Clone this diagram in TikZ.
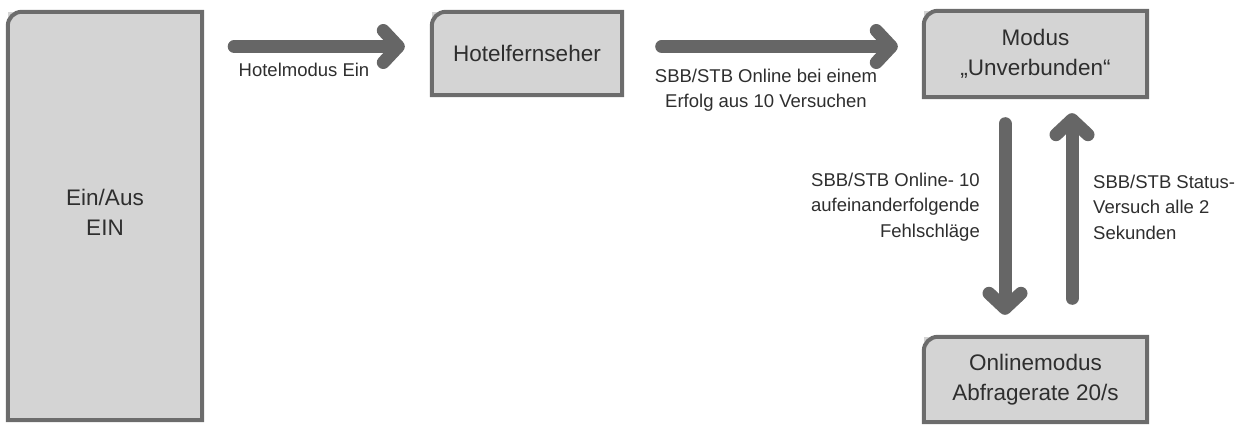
\documentclass[tikz,border=0pt]{standalone}
\usepackage{fontspec}
\setmainfont{Liberation Sans}
\usetikzlibrary{arrows.meta}
\definecolor{boxfill}{HTML}{D4D4D4}
\definecolor{boxline}{HTML}{6C6C6C}
\definecolor{arrowgray}{HTML}{666666}
\definecolor{textgray}{HTML}{2E2E2E}

% outline with only the top left corner rounded
\newcommand\cornerbox[1]{
        \draw [boxedge] (#1.south west) -- ([yshift=-14pt]#1.north west)
          arc [start angle=180, end angle=90, radius=14pt] -- (#1.north east)
          -- (#1.south east) -- cycle;
}

\begin{document}
\begin{tikzpicture}[x=1pt, y=-1pt,
        statebox/.style={fill=boxfill, inner sep=0pt, align=center, text=textgray,
          font=\fontsize{22.5}{30}\selectfont},
        boxedge/.style={draw=boxline, line width=4pt},
        edgelabel/.style={inner sep=0pt, text=textgray, font=\fontsize{18.5}{25.5}\selectfont},
        bigarrow/.style={draw=arrowgray, line width=13pt, line cap=round,
          -{Straight Barb[length=15pt, width=32pt, round]}}
        ]
        \useasboundingbox (0,0) rectangle (1243,428);
        \node [statebox, minimum width=194pt, minimum height=408pt, text depth=7pt] (power) at (105,216) {Ein/Aus\\EIN};
        \node [statebox, minimum width=190pt, minimum height=83pt] (hotel) at (527,53.5) {Hotelfernseher};
        \node [statebox, minimum width=223pt, minimum height=86pt] (modus) at (1035.5,54) {Modus\\„Unverbunden“};
        \node [statebox, minimum width=223pt, minimum height=85pt] (online) at (1035.5,379.5) {Onlinemodus\\Abfragerate 20/s};
        \cornerbox{power}
        \cornerbox{hotel}
        \cornerbox{modus}
        \cornerbox{online}
        \coordinate (toprow) at (0,46.5);
        \coordinate (downcol) at (1005,0);
        \coordinate (upcol) at (1072,0);
        \draw [bigarrow, shorten <=32pt, shorten >=27pt] (power.east |- toprow) -- (hotel.west |- toprow);
        \draw [bigarrow, shorten <=39.5pt, shorten >=26pt] (hotel.east |- toprow) -- (modus.west |- toprow);
        \draw [bigarrow, shorten <=26.5pt, shorten >=22pt] (modus.south -| downcol) -- (online.north -| downcol);
        \draw [bigarrow, shorten <=38.5pt, shorten >=16pt] (online.north -| upcol) -- (modus.south -| upcol);
        \node [edgelabel] (hotellabel) at (304,70) {Hotelmodus Ein};
        \node [edgelabel, align=center] (onlinelabel) at (766,90) {SBB/STB Online bei einem\\Erfolg aus 10 Versuchen};
        \node [edgelabel, align=right, anchor=east] (faillabel) at (980,207) {SBB/STB Online- 10\\aufeinanderfolgende\\Fehlschläge};
        \node [edgelabel, align=left, anchor=west] (statuslabel) at (1093,207) {SBB/STB Status-\\Versuch alle 2\\Sekunden};
\end{tikzpicture}
\end{document}
